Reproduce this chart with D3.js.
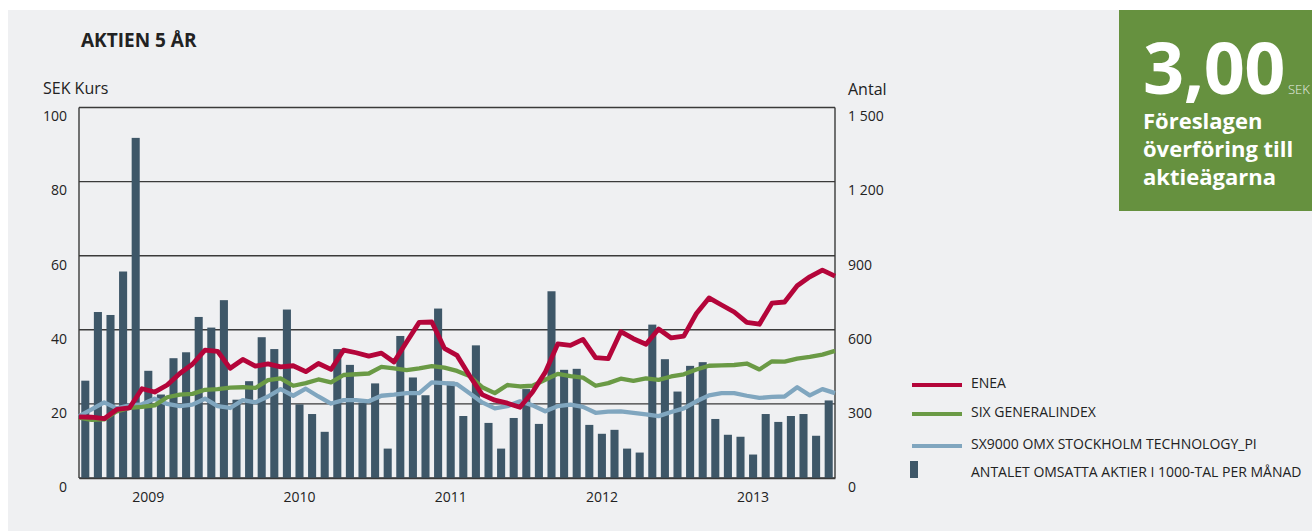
<!DOCTYPE html>
<html>
<head>
<meta charset="utf-8">
<script src="https://d3js.org/d3.v7.min.js"></script>
<style>
  body { margin: 0; background: #fff; }
  svg { display: block; font-family: "Open Sans", sans-serif; }
</style>
</head>
<body>
<div id="chart"></div>
<script>
const width = 1312;
const height = 531;
const plot = { left: 79, right: 835, top: 107.5, bottom: 478 };

const years = [2009, 2010, 2011, 2012, 2013];
const yearLabels = ["2009", "2010", "2011", "2012", "2013"];
const leftTicks = [0, 20, 40, 60, 80, 100];
const rightTicks = [0, 300, 600, 900, 1200, 1500];

// traded shares per month, thousands (right axis)
const volume = [
  394, 672, 660, 836, 1377, 434, 338, 485, 509, 652, 609, 720,
  317, 392, 570, 522, 682, 298, 259, 187, 522, 458, 305, 383,
  119, 575, 407, 335, 686, 390, 251, 537, 223, 119, 243, 360,
  219, 756, 438, 442, 215, 179, 195, 119, 103, 621, 481, 350,
  454, 469, 239, 175, 167, 95, 259, 227, 251, 259, 171, 314
];

// month-end prices / index levels (left axis), 61 points
const enea = [
  16.5, 16.4, 16.0, 18.5, 18.9, 24.1, 23.2, 25.1, 28.2, 30.7, 34.5, 34.2,
  29.6, 32.0, 30.2, 30.8, 30.0, 30.3, 28.7, 30.9, 29.3, 34.5, 33.8, 32.9,
  33.7, 31.3, 36.7, 42.0, 42.1, 35.0, 33.1, 27.6, 22.5, 21.0, 20.2, 19.1,
  23.2, 28.5, 36.2, 35.8, 37.4, 32.5, 32.2, 39.5, 37.6, 36.1, 40.2, 37.8,
  38.3, 44.4, 48.6, 46.7, 44.8, 42.0, 41.5, 47.2, 47.5, 51.9, 54.3, 56.1,
  54.5
];
const sixGeneral = [
  16.3, 15.7, 15.8, 18.0, 18.9, 19.2, 19.6, 21.8, 22.5, 22.7, 23.8, 24.0,
  24.4, 24.5, 24.3, 26.4, 26.9, 24.9, 25.6, 26.6, 25.8, 27.8, 28.0, 28.2,
  30.0, 29.6, 29.1, 29.6, 30.2, 29.8, 28.9, 27.5, 24.5, 22.9, 25.1, 24.7,
  24.9, 26.5, 28.1, 27.5, 27.1, 24.9, 25.6, 26.8, 26.2, 26.9, 26.5, 27.4,
  28.0, 29.3, 30.3, 30.4, 30.5, 30.9, 29.3, 31.5, 31.4, 32.2, 32.7, 33.3,
  34.3
];
const sx9000 = [
  16.7, 18.5, 20.4, 18.8, 19.6, 19.9, 21.4, 20.0, 19.4, 19.8, 21.4, 19.4,
  18.9, 21.0, 20.4, 22.0, 24.0, 22.2, 24.1, 22.0, 20.1, 21.0, 21.0, 20.7,
  22.2, 22.5, 22.9, 22.9, 25.8, 25.6, 25.3, 22.9, 20.4, 18.8, 19.4, 20.7,
  19.6, 18.0, 19.4, 19.8, 19.2, 17.6, 17.9, 18.0, 17.6, 17.2, 16.7, 17.8,
  18.8, 20.7, 22.3, 22.9, 22.9, 22.2, 21.6, 21.9, 22.0, 24.5, 22.3, 24.0,
  22.9
];

const seriesNames = ["ENEA", "SIX GENERALINDEX", "SX9000 OMX STOCKHOLM TECHNOLOGY_PI"];
const seriesColors = ["#b4053a", "#6a9a45", "#80a6bf"];
const barLabel = "ANTALET OMSATTA AKTIER I 1000-TAL PER MÅNAD";
const barColor = "#3e5768";

const months = d3.cross(years, d3.range(1, 13), (y, m) => `${y}-${String(m).padStart(2, "0")}`);
const yearTicks = years.map(y => `${y}-06`);

const seLocale = d3.formatLocale({ decimal: ",", thousands: "\u00a0", grouping: [3], currency: ["", " kr"] });

const scales = {
  band: d3.scaleBand(months, [plot.left, plot.right]).paddingInner(0.36).paddingOuter(0.18),
  x: d3.scaleLinear([0, enea.length - 1], [plot.left, plot.right]),
  yLeft: d3.scaleLinear([0, 100], [plot.bottom, plot.top]),
  yRight: d3.scaleLinear([0, 1500], [plot.bottom, plot.top])
};

const svg = d3.select("#chart").append("svg")
  .attr("width", width)
  .attr("height", height)
  .attr("viewBox", `0 0 ${width} ${height}`);

const background = selection => {
  selection.append("rect")
    .attr("x", 8).attr("y", 10)
    .attr("width", width - 8).attr("height", height - 10)
    .attr("fill", "#eff0f2");
}

const grid = scales => selection => {
  let g = selection.append("g").attr("class", "grid");
  g.selectAll("line")
    .data(leftTicks)
    .join("line")
    .attr("x1", plot.left).attr("x2", plot.right)
    .attr("y1", d => scales.yLeft(d)).attr("y2", d => scales.yLeft(d))
    .attr("stroke", "#3a3a3a")
    .attr("stroke-width", 1.4);
  g.selectAll(".edge")
    .data([plot.left, plot.right])
    .join("line")
    .attr("class", "edge")
    .attr("x1", d => d).attr("x2", d => d)
    .attr("y1", plot.top).attr("y2", plot.bottom)
    .attr("stroke", "#3a3a3a")
    .attr("stroke-width", 1.4);
}

const bars = scales => selection => {
  selection.append("g")
    .selectAll("rect")
    .data(volume)
    .join("rect")
    .attr("x", (d, i) => scales.band(months[i]))
    .attr("width", scales.band.bandwidth())
    .attr("y", d => scales.yRight(d))
    .attr("height", d => plot.bottom - scales.yRight(d))
    .attr("fill", barColor);
}

const lines = scales => selection => {
  let line = d3.line()
    .x((d, i) => scales.x(i))
    .y(d => scales.yLeft(d));
  selection.append("g")
    .selectAll("path")
    .data([sx9000, sixGeneral, enea])
    .join("path")
    .attr("d", line)
    .attr("fill", "none")
    .attr("stroke", (d, i) => seriesColors[2 - i])
    .attr("stroke-width", (d, i) => i == 2 ? 4.8 : 4.3)
    .attr("stroke-linejoin", "round");
}

const axes = scales => selection => {
  let left = d3.axisLeft(scales.yLeft).tickValues(leftTicks).tickSize(0).tickPadding(12);
  selection.append("g")
    .attr("transform", `translate(${plot.left},0)`)
    .call(left)
    .call(g => g.select(".domain").remove())
    .call(g => g.selectAll("text").attr("dy", "0.95em").attr("x", -12));

  let right = d3.axisRight(scales.yRight).tickValues(rightTicks).tickSize(0)
    .tickFormat(seLocale.format(","));
  selection.append("g")
    .attr("transform", `translate(${plot.right},0)`)
    .call(right)
    .call(g => g.select(".domain").remove())
    .call(g => g.selectAll("text").attr("dy", "0.95em").attr("x", 13));

  let bottom = d3.axisBottom(scales.band).tickValues(yearTicks).tickSize(0).tickPadding(14)
    .tickFormat((d, i) => yearLabels[i]);
  selection.append("g")
    .attr("transform", `translate(0,${plot.bottom})`)
    .call(bottom)
    .call(g => g.select(".domain").attr("stroke", "#3a3a3a").attr("stroke-width", 1.4));

  selection.selectAll(".tick text")
    .attr("font-family", "'Open Sans', sans-serif")
    .attr("font-size", 14)
    .attr("fill", "#222");
}

const titles = selection => {
  selection.append("text")
    .attr("x", 81).attr("y", 47)
    .attr("font-size", 19).attr("font-weight", 700)
    .attr("fill", "#222")
    .text("AKTIEN 5 ÅR");
  selection.append("text")
    .attr("x", 43).attr("y", 94)
    .attr("font-size", 16)
    .attr("fill", "#222")
    .text("SEK Kurs");
  selection.append("text")
    .attr("x", 848).attr("y", 95)
    .attr("font-size", 16)
    .attr("fill", "#222")
    .text("Antal");
}

const legend = selection => {
  let g = selection.append("g").attr("transform", "translate(912,0)");
  let rows = [385, 414, 446];
  g.selectAll("line")
    .data(seriesNames)
    .join("line")
    .attr("x1", 0).attr("x2", 50)
    .attr("y1", (d, i) => rows[i]).attr("y2", (d, i) => rows[i])
    .attr("stroke", (d, i) => seriesColors[i])
    .attr("stroke-width", 4);
  g.append("rect")
    .attr("x", -2).attr("y", 461)
    .attr("width", 8).attr("height", 17)
    .attr("fill", barColor);
  g.selectAll("text")
    .data(seriesNames.concat([barLabel]))
    .join("text")
    .attr("x", 59)
    .attr("y", (d, i) => [383, 412, 444, 472][i])
    .attr("dy", "0.35em")
    .attr("font-size", 14)
    .attr("fill", "#222")
    .text(d => d);
}

const dividendBox = selection => {
  let g = selection.append("g");
  g.append("rect")
    .attr("x", 1119).attr("y", 10)
    .attr("width", width - 1119).attr("height", 201)
    .attr("fill", "#66913f");
  g.append("text")
    .attr("x", 1143).attr("y", 94)
    .attr("font-size", 72).attr("font-weight", 700)
    .attr("letter-spacing", -0.5)
    .attr("fill", "#fff")
    .text("3,00");
  g.append("text")
    .attr("x", 1288).attr("y", 94)
    .attr("font-size", 13).attr("font-weight", 300)
    .attr("fill", "#fff")
    .attr("opacity", 0.85)
    .text("SEK");
  g.selectAll(".caption")
    .data(["Föreslagen", "överföring till", "aktieägarna"])
    .join("text")
    .attr("class", "caption")
    .attr("x", 1143)
    .attr("y", (d, i) => 129 + i * 28)
    .attr("font-size", 22).attr("font-weight", 700)
    .attr("fill", "#fff")
    .text(d => d);
}

svg
  .call(background)
  .call(grid(scales))
  .call(bars(scales))
  .call(lines(scales))
  .call(axes(scales))
  .call(titles)
  .call(legend)
  .call(dividendBox);
</script>
</body>
</html>
